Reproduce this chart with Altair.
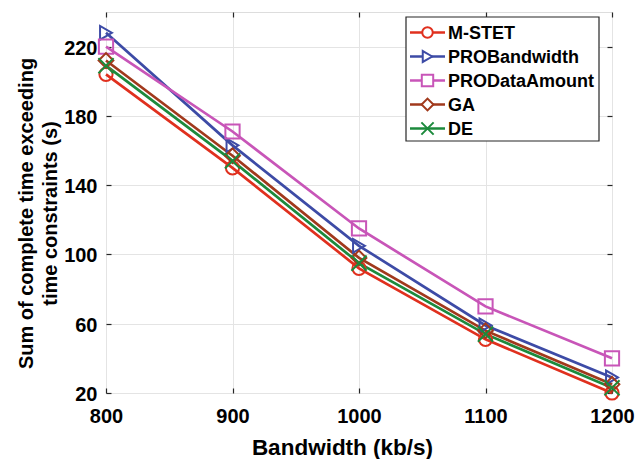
import altair as alt
import pandas as pd

# ---- data ----
bandwidth = [800, 900, 1000, 1100, 1200]
series_names = ["M-STET", "PROBandwidth", "PRODataAmount", "GA", "DE"]
m_stet = [204, 150, 92, 51, 20]
pro_bandwidth = [228, 163, 105, 59, 29]
pro_data_amount = [220, 171, 115, 70, 40]
ga = [212, 157, 98, 56, 25]
de = [209, 154, 95, 54, 23]
x_ticks = [800, 900, 1000, 1100, 1200]
y_ticks = [20, 60, 100, 140, 180, 220]

# ---- styles ----
colors = ["#e0301e", "#3d4ba6", "#c855b8", "#a1391c", "#1c8a3c"]
x_path = "M-1,-1L1,1M1,-1L-1,1"
shapes = ["circle", "triangle-right", "square", "diamond", x_path]
sizes = [175, 230, 150, 290, 150]
legend_sizes = [110, 150, 95, 190, 95]

values = [m_stet, pro_bandwidth, pro_data_amount, ga, de]
rows = []
for name, vals in zip(series_names, values):
    for bw, v in zip(bandwidth, vals):
        rows.append({"bandwidth": bw, "value": v, "series": name})
df = pd.DataFrame(rows)
legend_df = pd.DataFrame({"series": series_names})
box_df = pd.DataFrame({"k": [0]})

W, H = 506, 381
FONT = "Liberation Sans"
AXC = "#262626"

xscale = alt.Scale(domain=[800, 1200], nice=False, zero=False)
yscale = alt.Scale(domain=[20, 240], nice=False, zero=False)
color_enc = alt.Color("series:N", scale=alt.Scale(domain=series_names, range=colors), legend=None)
shape_enc = alt.Shape("series:N", scale=alt.Scale(domain=series_names, range=shapes), legend=None)

base = alt.Chart(df)

lines = base.mark_line(strokeWidth=2.7).encode(
    x=alt.X("bandwidth:Q", scale=xscale,
            axis=alt.Axis(values=x_ticks, format="d", labelFlush=False, title="Bandwidth (kb/s)",
                          grid=True, ticks=False, domain=False,
                          labelFontSize=20, labelFontWeight="bold", labelFont=FONT, labelColor="#000",
                          labelPadding=13, titleFontSize=22.5, titleFontWeight="bold", titleFont=FONT,
                          titleColor="#000", titleX=236, titleY=61, titleBaseline="alphabetic",
                          gridColor="#e4e4e4", gridWidth=1)),
    y=alt.Y("value:Q", scale=yscale,
            axis=alt.Axis(values=y_ticks, format="d", labelFlush=False,
                          title=["Sum of complete time exceeding", "time constraints (s)"],
                          grid=True, ticks=False, domain=False,
                          labelFontSize=20, labelFontWeight="bold", labelFont=FONT, labelColor="#000",
                          labelPadding=9, labelOffset=1.5, titleFontSize=20, titleFontWeight="bold",
                          titleFont=FONT, titleColor="#000", titlePadding=3, titleLineHeight=24,
                          titleY=201, gridColor="#e4e4e4", gridWidth=1)),
    color=color_enc,
    detail="series:N",
)

points = base.mark_point(filled=False, strokeWidth=2, opacity=1).encode(
    x=alt.X("bandwidth:Q", scale=xscale,
            axis=alt.Axis(orient="bottom", values=x_ticks, offset=-5, tickSize=5, tickColor=AXC,
                          tickWidth=1.2, labels=False, domain=False, grid=False, title=None)),
    y=alt.Y("value:Q", scale=yscale,
            axis=alt.Axis(orient="left", values=y_ticks, offset=-5, tickSize=5, tickColor=AXC,
                          tickWidth=1.2, labels=False, domain=False, grid=False, title=None)),
    color=color_enc,
    shape=shape_enc,
    size=alt.Size("series:N", scale=alt.Scale(domain=series_names, range=sizes), legend=None),
)

ticks2 = base.mark_point(opacity=0).encode(
    x=alt.X("bandwidth:Q", scale=xscale,
            axis=alt.Axis(orient="top", values=x_ticks, offset=-5, tickSize=5, tickColor=AXC,
                          tickWidth=1.2, labels=False, domain=False, grid=False, title=None)),
    y=alt.Y("value:Q", scale=yscale,
            axis=alt.Axis(orient="right", values=y_ticks, offset=-5, tickSize=5, tickColor=AXC,
                          tickWidth=1.2, labels=False, domain=False, grid=False, title=None)),
)

data_layer = alt.layer(lines, points, ticks2).resolve_axis(x="independent", y="independent")

# ---- legend (inside the plot, top right) ----
box = alt.Chart(box_df).mark_rect(fill="white", stroke=AXC, strokeWidth=1.2).encode(
    x=alt.value(300), x2=alt.value(493), y=alt.value(5), y2=alt.value(129)
)
leg_y = alt.Y("series:N", scale=alt.Scale(type="point", domain=series_names, range=[20.5, 116.5], padding=0),
              axis=None)
leg_base = alt.Chart(legend_df)
leg_lines = leg_base.mark_rule(strokeWidth=2.7).encode(
    x=alt.value(304), x2=alt.value(339), y=leg_y, color=color_enc
)
leg_pts = leg_base.mark_point(filled=False, strokeWidth=2, opacity=1, fill="white").encode(
    x=alt.value(321.5), y=leg_y, color=color_enc, shape=shape_enc,
    size=alt.Size("series:N", scale=alt.Scale(domain=series_names, range=legend_sizes), legend=None),
)
leg_text = leg_base.mark_text(align="left", baseline="middle", fontSize=18, fontWeight="bold",
                              font=FONT, color="#000", dy=1).encode(
    x=alt.value(342), y=leg_y, text="series:N"
)
legend_layer = alt.layer(box, leg_lines, leg_pts, leg_text)

chart = alt.layer(data_layer, legend_layer).resolve_scale(y="independent", size="independent").properties(
    width=W, height=H,
    autosize=alt.AutoSizeParams(type="none"),
    padding={"left": 106, "top": 12, "right": 32, "bottom": 66},
).configure_view(stroke=AXC, strokeWidth=1.3).configure(background="white")

chart.save("out.html", embed_options={"renderer": "svg", "actions": False})
